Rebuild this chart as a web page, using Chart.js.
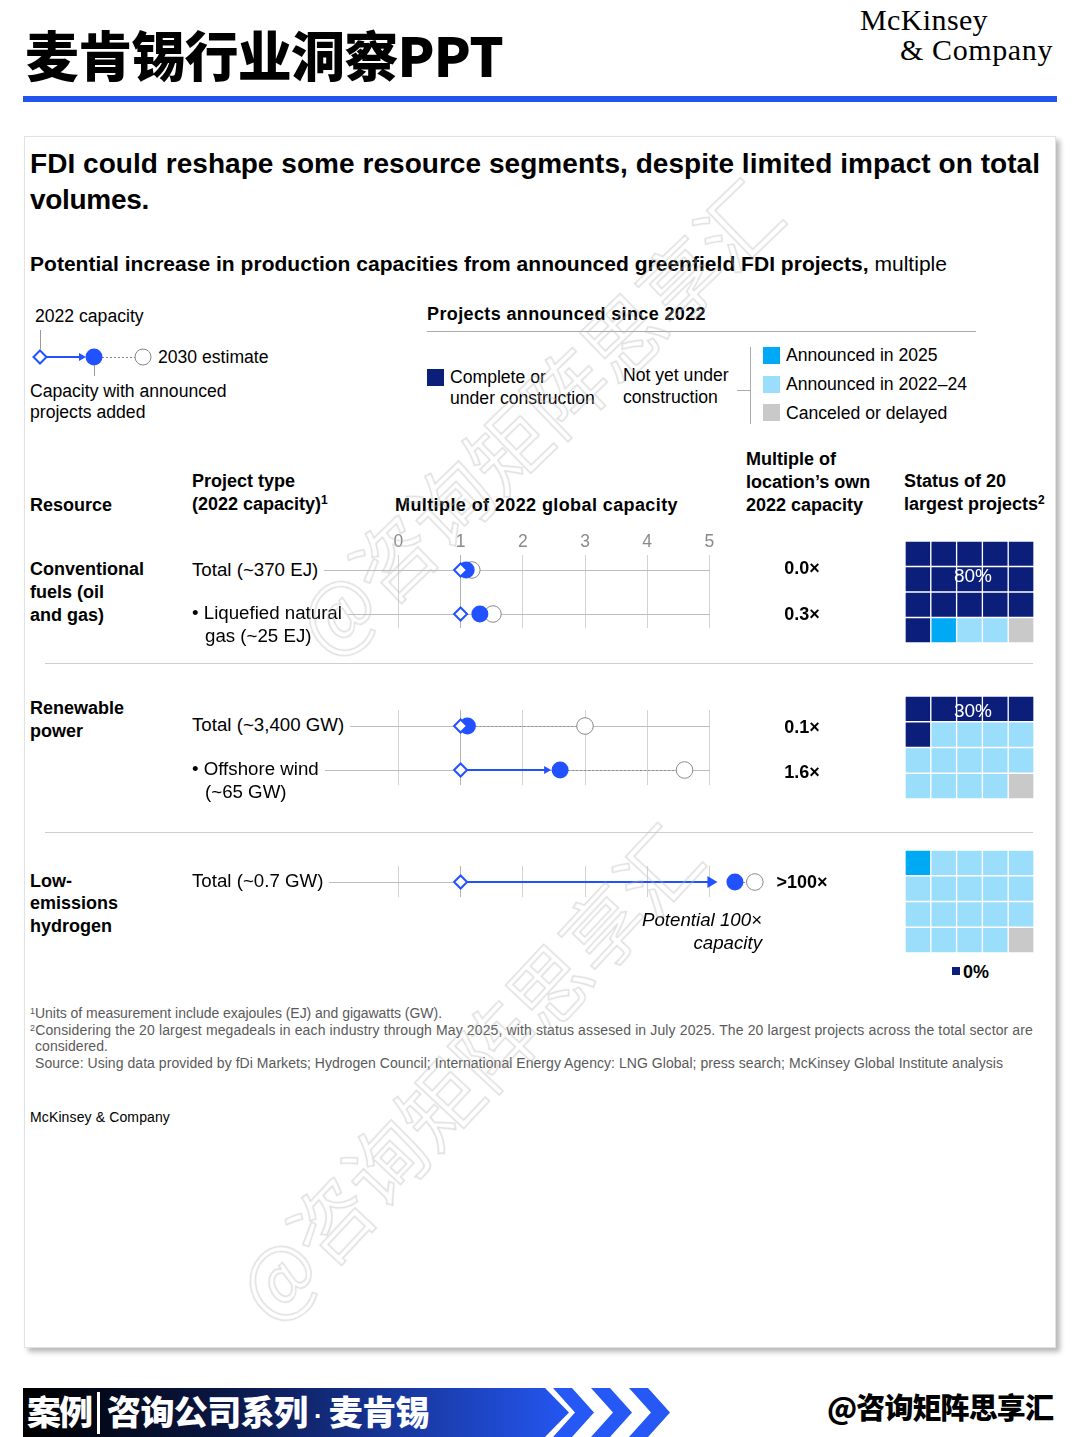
<!DOCTYPE html>
<html><head><meta charset="utf-8">
<script src="https://cdn.jsdelivr.net/npm/chart.js@4.4.1/dist/chart.umd.min.js"></script>
<style>
html,body{margin:0;padding:0;background:#fff;}
body{width:1080px;height:1437px;position:relative;overflow:hidden;font-family:"Liberation Sans",Arial,sans-serif;color:#000;}
.a{position:absolute;white-space:nowrap;}
.b{font-weight:bold;}
.f18{font-size:18px;line-height:22px;}
.r18{font-size:18.7px;line-height:22px;}
.f17{font-size:17.6px;line-height:21px;}
.fn{font-size:14px;line-height:16px;color:#5a5a5a;}
canvas{position:absolute;}
.m{background:#fff;padding-right:6px;}
.cjk{font-family:"Noto Sans CJK SC",sans-serif;}
.wm{position:absolute;font-family:"Noto Sans CJK SC",sans-serif;font-size:80px;line-height:90px;color:transparent;-webkit-text-stroke:1.5px rgba(185,185,185,0.45);white-space:nowrap;pointer-events:none;z-index:50;}
</style></head><body>

<!-- page header -->
<div class="a cjk" style="left:25px;top:24px;font-size:54px;line-height:60px;font-weight:900;" data-w="478">麦肯锡行业洞察PPT</div>
<div class="a" style="left:860px;top:5px;font-family:'Liberation Serif',serif;font-size:30px;line-height:30px;" data-w="128">McKinsey</div>
<div class="a" style="left:900px;top:35px;font-family:'Liberation Serif',serif;font-size:30px;line-height:30px;" data-w="153">&amp; Company</div>
<div class="a" style="left:23px;top:96px;width:1034px;height:6px;background:#2454F0;"></div>

<!-- card -->
<div class="a" style="left:24px;top:136px;width:1030px;height:1210px;border:1px solid #e2e2e2;box-shadow:4px 4px 5px rgba(0,0,0,0.28);background:#fff;"></div>

<div class="a b" style="left:30px;top:147px;font-size:28px;line-height:34px;" data-w="1010">FDI could reshape some resource segments, despite limited impact on total</div>
<div class="a b" style="left:30px;top:183px;font-size:28px;line-height:34px;" data-w="119">volumes.</div>
<div class="a" style="left:30px;top:251px;font-size:21px;line-height:26px;" data-w="917"><b>Potential increase in production capacities from announced greenfield FDI projects,</b> multiple</div>

<!-- legend left -->
<div class="a f17" style="left:35px;top:306px;">2022 capacity</div>
<div class="a f17" style="left:158px;top:347px;">2030 estimate</div>
<div class="a f17" style="left:30px;top:381px;">Capacity with announced</div>
<div class="a f17" style="left:30px;top:402px;">projects added</div>
<svg class="a" style="left:0;top:320px;" width="180" height="70">
  <line x1="40.5" y1="10" x2="40.5" y2="29" stroke="#999" stroke-width="1"/>
  <line x1="46" y1="37" x2="80" y2="37" stroke="#2251FF" stroke-width="2"/>
  <polygon points="86,37 79,33 79,41" fill="#2251FF"/>
  <polygon points="40,30.5 46.5,37 40,43.5 33.5,37" fill="#fff" stroke="#2251FF" stroke-width="2"/>
  <line x1="102" y1="37.5" x2="135" y2="37.5" stroke="#888" stroke-width="1" stroke-dasharray="2,2"/>
  <circle cx="94" cy="37" r="8.5" fill="#2251FF"/>
  <circle cx="143" cy="37" r="8" fill="#fff" stroke="#888" stroke-width="1"/>
  <line x1="94.5" y1="45" x2="94.5" y2="56" stroke="#999" stroke-width="1"/>
</svg>

<!-- legend right -->
<div class="a b f18" style="left:427px;top:303px;" data-w="279">Projects announced since 2022</div>
<div class="a" style="left:427px;top:331px;width:549px;height:1px;background:#aaa;"></div>
<div class="a" style="left:427px;top:369px;width:17px;height:17px;background:#0B1F7A;"></div>
<div class="a f17" style="left:450px;top:367px;">Complete or</div>
<div class="a f17" style="left:450px;top:388px;">under construction</div>
<div class="a f17" style="left:623px;top:365px;">Not yet under</div>
<div class="a f17" style="left:623px;top:387px;">construction</div>
<div class="a" style="left:737px;top:390px;width:13px;height:1px;background:#aaa;"></div>
<div class="a" style="left:750px;top:347px;width:1px;height:77px;background:#aaa;"></div>
<div class="a" style="left:763px;top:347px;width:17px;height:17px;background:#00A9F4;"></div>
<div class="a" style="left:763px;top:376px;width:17px;height:17px;background:#9BDEFC;"></div>
<div class="a" style="left:763px;top:404px;width:17px;height:17px;background:#C9C9C9;"></div>
<div class="a f17" style="left:786px;top:345px;">Announced in 2025</div>
<div class="a f17" style="left:786px;top:374px;">Announced in 2022–24</div>
<div class="a f17" style="left:786px;top:403px;">Canceled or delayed</div>

<!-- column headers -->
<div class="a b f18" style="left:30px;top:494px;">Resource</div>
<div class="a b f18" style="left:192px;top:470px;">Project type</div>
<div class="a b f18" style="left:192px;top:493px;">(2022 capacity)<span style="font-size:12px;vertical-align:6px;line-height:0;">1</span></div>
<div class="a b f18" style="left:395px;top:494px;" data-w="283">Multiple of 2022 global capacity</div>
<div class="a b f18" style="left:746px;top:448px;">Multiple of</div>
<div class="a b f18" style="left:746px;top:471px;">location’s own</div>
<div class="a b f18" style="left:746px;top:494px;">2022 capacity</div>
<div class="a b f18" style="left:904px;top:470px;">Status of 20</div>
<div class="a b f18" style="left:904px;top:493px;">largest projects<span style="font-size:12px;vertical-align:6px;line-height:0;">2</span></div>

<!-- charts -->
<canvas id="g1" width="451" height="98" style="left:320px;top:530px;"></canvas>
<canvas id="g2" width="451" height="75" style="left:320px;top:710px;"></canvas>
<canvas id="g3" width="451" height="31" style="left:320px;top:866px;"></canvas>
<canvas id="w1" width="129" height="102" style="left:905px;top:541px;"></canvas>
<canvas id="w2" width="129" height="103" style="left:905px;top:696px;"></canvas>
<canvas id="w3" width="129" height="103" style="left:905px;top:850px;"></canvas>

<!-- resource labels -->
<div class="a b f18" style="left:30px;top:558px;">Conventional</div>
<div class="a b f18" style="left:30px;top:581px;">fuels (oil</div>
<div class="a b f18" style="left:30px;top:604px;">and gas)</div>
<div class="a b f18" style="left:30px;top:697px;">Renewable</div>
<div class="a b f18" style="left:30px;top:720px;">power</div>
<div class="a b f18" style="left:30px;top:870px;">Low-</div>
<div class="a b f18" style="left:30px;top:892px;">emissions</div>
<div class="a b f18" style="left:30px;top:915px;">hydrogen</div>

<!-- project labels -->
<div class="a r18 m" style="left:192px;top:559px;">Total (~370 EJ)</div>
<div class="a r18 m" style="left:192px;top:602px;">• Liquefied natural</div>
<div class="a r18 m" style="left:205px;top:625px;">gas (~25 EJ)</div>
<div class="a r18 m" style="left:192px;top:714px;">Total (~3,400 GW)</div>
<div class="a r18 m" style="left:192px;top:758px;">• Offshore wind</div>
<div class="a r18 m" style="left:205px;top:781px;">(~65 GW)</div>
<div class="a r18 m" style="left:192px;top:870px;">Total (~0.7 GW)</div>

<div id="own"></div>

<div class="a" style="left:45px;top:663px;width:988px;height:1px;background:#cfcfcf;"></div>
<div class="a" style="left:45px;top:832px;width:988px;height:1px;background:#cfcfcf;"></div>

<div class="a r18" style="right:318px;top:909px;font-style:italic;text-align:right;">Potential 100×</div>
<div class="a r18" style="right:318px;top:932px;font-style:italic;text-align:right;">capacity</div>

<div id="pct"></div>
<div class="a" style="left:952px;top:967px;width:8px;height:8px;background:#0B1F7A;"></div>

<!-- footnotes -->
<div class="a fn" style="left:30px;top:1005px;" data-w="412"><span style="font-size:9px;vertical-align:4px;line-height:0;">1</span>Units of measurement include exajoules (EJ) and gigawatts (GW).</div>
<div class="a fn" style="left:30px;top:1022px;" data-w="1003"><span style="font-size:9px;vertical-align:4px;line-height:0;">2</span>Considering the 20 largest megadeals in each industry through May 2025, with status assesed in July 2025. The 20 largest projects across the total sector are</div>
<div class="a fn" style="left:35px;top:1038px;" data-w="73">considered.</div>
<div class="a fn" style="left:35px;top:1055px;" data-w="968">Source: Using data provided by fDi Markets; Hydrogen Council; International Energy Agency: LNG Global; press search; McKinsey Global Institute analysis</div>
<div class="a" style="left:30px;top:1109px;font-size:14px;line-height:16px;" data-w="140">McKinsey &amp; Company</div>

<!-- footer banner -->
<svg class="a" style="left:0;top:1380px;" width="700" height="57">
  <defs><linearGradient id="gr" x1="23" y1="0" x2="570" y2="0" gradientUnits="userSpaceOnUse">
    <stop offset="0" stop-color="#000"/><stop offset="0.35" stop-color="#0a1640"/><stop offset="1" stop-color="#2456F2"/></linearGradient></defs>
  <polygon points="23,8 545,8 569,32.5 545,57 23,57" fill="url(#gr)"/>
  <polygon points="553,8 572,8 594,32.5 572,57 553,57 575,32.5" fill="#2558F5"/>
  <polygon points="591,8 610,8 632,32.5 610,57 591,57 613,32.5" fill="#2558F5"/>
  <polygon points="629,8 648,8 670,32.5 648,57 629,57 651,32.5" fill="#2558F5"/>
</svg>
<div class="a cjk" style="left:27px;top:1391px;font-size:34px;line-height:40px;font-weight:900;color:#fff;" data-w="64">案例</div>
<div class="a" style="left:97px;top:1392px;width:3px;height:42px;background:#fff;"></div>
<div class="a cjk" style="left:107px;top:1391px;font-size:34px;line-height:40px;font-weight:900;color:#fff;" data-w="322">咨询公司系列<span style="font-family:'Liberation Sans';font-size:26px;"> · </span>麦肯锡</div>
<div class="a cjk" style="left:827px;top:1388px;font-size:29px;line-height:36px;font-weight:900;" data-w="226">@咨询矩阵思享汇</div>

<!-- watermark -->
<div class="wm" style="left:535px;top:415px;transform:translate(-50%,-50%) rotate(-44deg);">@咨询矩阵思享汇</div>
<div class="wm" style="left:465px;top:1070px;transform:translate(-50%,-50%) rotate(-47deg);">@咨询矩阵思享汇</div>

<script>
// ---------------- data ----------------
const resources = ['Conventional fuels (oil and gas)', 'Renewable power', 'Low-emissions hydrogen'];
const projectTypes = ['Total (~370 EJ)', 'Liquefied natural gas (~25 EJ)', 'Total (~3,400 GW)', 'Offshore wind (~65 GW)', 'Total (~0.7 GW)'];
const axisTicks = [0, 1, 2, 3, 4, 5];
const capacity2022 = [1, 1, 1, 1, 1];
// hydrogen: >100x, shown just beyond the axis break
const withAnnounced = [1.09, 1.31, 1.11, 2.6, 5.41];
const estimate2030 = [1.18, 1.52, 3.0, 4.6, 5.73];
const ownMultiple = ['0.0×', '0.3×', '0.1×', '1.6×', '>100×'];
const statusLabels = ['Complete or under construction', 'Announced in 2025', 'Announced in 2022–24', 'Canceled or delayed'];
const statusComplete = [16, 6, 0];
const statusAnn2025 = [1, 0, 1];
const statusAnn2224 = [2, 13, 18];
const statusCanceled = [1, 1, 1];
const completeShare = ['80%', '30%', '0%'];

// ---------------- styles ----------------
const BLUE = '#2251FF', NAVY = '#0B1F7A', BRIGHT = '#00A9F4', LIGHT = '#9BDEFC', GRAY = '#C9C9C9';
const xMin = -1.26, xMax = 5.99, axisEnd = 5;
const groups = [[0, 1], [2, 3], [4]];
const frames = [
  {id: 'g1', yMin: -15 / 44, yMax: -15 / 44 + 73 / 44, labels: true},
  {id: 'g2', yMin: -16 / 44, yMax: -16 / 44 + 75 / 44, labels: false},
  {id: 'g3', yMin: -16 / 44, yMax: -16 / 44 + 31 / 44, labels: false}
];

const dumbbell = {
  id: 'dumbbell',
  beforeDatasetsDraw(chart, args, opts) {
    const {ctx, chartArea, scales: {x, y}} = chart;
    const rows = opts.rows;
    ctx.save();
    rows.forEach((r, i) => {
      const py = Math.round(y.getPixelForValue(i)) + 0.5;
      ctx.strokeStyle = '#bdbdbd'; ctx.lineWidth = 1; ctx.setLineDash([]);
      ctx.beginPath(); ctx.moveTo(chartArea.left, py); ctx.lineTo(x.getPixelForValue(axisEnd), py); ctx.stroke();
      const xa = x.getPixelForValue(withAnnounced[r]), xe = x.getPixelForValue(estimate2030[r]);
      ctx.strokeStyle = '#8f8f8f'; ctx.setLineDash([2, 2]);
      ctx.beginPath(); ctx.moveTo(xa, py); ctx.lineTo(xe, py); ctx.stroke();
      ctx.setLineDash([]);
      const x0 = x.getPixelForValue(capacity2022[r]);
      if (xa - x0 > 30) {
        const off = withAnnounced[r] > axisEnd;
        const tip = off ? x.getPixelForValue(axisEnd) + 8 : xa - 9;
        const hl = off ? 10 : 7, hh = off ? 6 : 4;
        const ly = y.getPixelForValue(i);
        ctx.strokeStyle = BLUE; ctx.fillStyle = BLUE; ctx.lineWidth = 2;
        ctx.beginPath(); ctx.moveTo(x0, ly); ctx.lineTo(tip - hl + 1, ly); ctx.stroke();
        ctx.beginPath(); ctx.moveTo(tip, ly); ctx.lineTo(tip - hl, ly - hh); ctx.lineTo(tip - hl, ly + hh); ctx.closePath(); ctx.fill();
      }
    });
    ctx.restore();
  }
};

frames.forEach((f, gi) => {
  const rows = groups[gi];
  const pts = arr => rows.map((r, i) => ({x: arr[r], y: i}));
  new Chart(document.getElementById(f.id), {
    type: 'scatter',
    data: {
      datasets: [
        {label: '2022 capacity', data: pts(capacity2022), pointStyle: 'rectRot', pointRadius: 6.5,
          pointBackgroundColor: '#fff', pointBorderColor: BLUE, pointBorderWidth: 2, order: 0, clip: false},
        {label: 'Capacity with announced projects added', data: pts(withAnnounced), pointStyle: 'circle', pointRadius: 8.5,
          pointBackgroundColor: BLUE, pointBorderColor: BLUE, pointBorderWidth: 0, order: 1, clip: false},
        {label: '2030 estimate', data: pts(estimate2030), pointStyle: 'circle', pointRadius: 8.3,
          pointBackgroundColor: '#fff', pointBorderColor: '#8a8a8a', pointBorderWidth: 1, order: 2, clip: false}
      ]
    },
    options: {
      responsive: false, animation: false, events: [], devicePixelRatio: 1,
      layout: {padding: 0, autoPadding: false},
      plugins: {legend: {display: false}, tooltip: {enabled: false}, dumbbell: {rows}},
      scales: {
        x: {
          type: 'linear', min: xMin, max: xMax, position: 'top',
          afterBuildTicks: s => { s.ticks = axisTicks.map(v => ({value: v})); },
          ticks: {display: f.labels, color: '#8a8a8a', font: {family: 'Liberation Sans', size: 17.5}, padding: 2, autoSkip: false, maxRotation: 0},
          grid: {color: c => (c.tick && c.tick.value === 1) ? '#b3b3b3' : '#d2d2d2', drawTicks: false, lineWidth: 1},
          border: {display: false},
          afterFit: s => { s.height = f.labels ? 25 : 0; }
        },
        y: {type: 'linear', min: f.yMin, max: f.yMax, reverse: true, display: false}
      }
    },
    plugins: [dumbbell]
  });
});

// own-location multiples
const ownY = [568, 614, 727, 772, 882];
document.getElementById('own').innerHTML = ownMultiple.map((t, i) =>
  `<div class="a b f18" style="left:742px;width:120px;text-align:center;top:${ownY[i] - 11}px;">${t.replace('>', '&gt;')}</div>`).join('');

// waffles
function cellColors(g) {
  const cells = [];
  const push = (n, c) => { for (let k = 0; k < n; k++) cells.push(c); };
  push(statusComplete[g], NAVY); push(statusAnn2025[g], BRIGHT); push(statusAnn2224[g], LIGHT); push(statusCanceled[g], GRAY);
  return cells;
}
['w1', 'w2', 'w3'].forEach((id, g) => {
  const cells = cellColors(g);
  const datasets = [];
  for (let r = 3; r >= 0; r--) {
    datasets.push({label: 'row' + r, data: [1, 1, 1, 1, 1], backgroundColor: cells.slice(r * 5, r * 5 + 5),
      borderColor: '#fff', borderWidth: 1, borderSkipped: false, barPercentage: 1, categoryPercentage: 1});
  }
  new Chart(document.getElementById(id), {
    type: 'bar',
    data: {labels: ['1', '2', '3', '4', '5'], datasets},
    options: {
      responsive: false, animation: false, events: [], devicePixelRatio: 1,
      layout: {padding: 0, autoPadding: false},
      plugins: {legend: {display: false}, tooltip: {enabled: false}},
      scales: {x: {stacked: true, display: false}, y: {stacked: true, display: false, min: 0, max: 4}}
    }
  });
});

// percentage labels
const pctPos = [{x: 973, y: 575, c: '#fff'}, {x: 973, y: 710, c: '#fff'}, {x: 963, y: 972, c: '#000', left: true}];
document.getElementById('pct').innerHTML = completeShare.map((t, i) => {
  const p = pctPos[i];
  return p.left
    ? `<div class="a b f18" style="left:${p.x}px;top:${p.y - 11}px;">${t}</div>`
    : `<div class="a" style="left:${p.x - 40}px;width:80px;text-align:center;top:${p.y - 11.5}px;font-size:19px;line-height:23px;color:${p.c};">${t}</div>`;
}).join('');

// fit text widths to reference
document.querySelectorAll('[data-w]').forEach(el => {
  const target = +el.dataset.w;
  el.style.letterSpacing = '0px';
  const w = el.getBoundingClientRect().width;
  const n = [...el.textContent].length;
  if (n > 1) el.style.letterSpacing = ((target - w) / n) + 'px';
});
</script>
</body></html>
